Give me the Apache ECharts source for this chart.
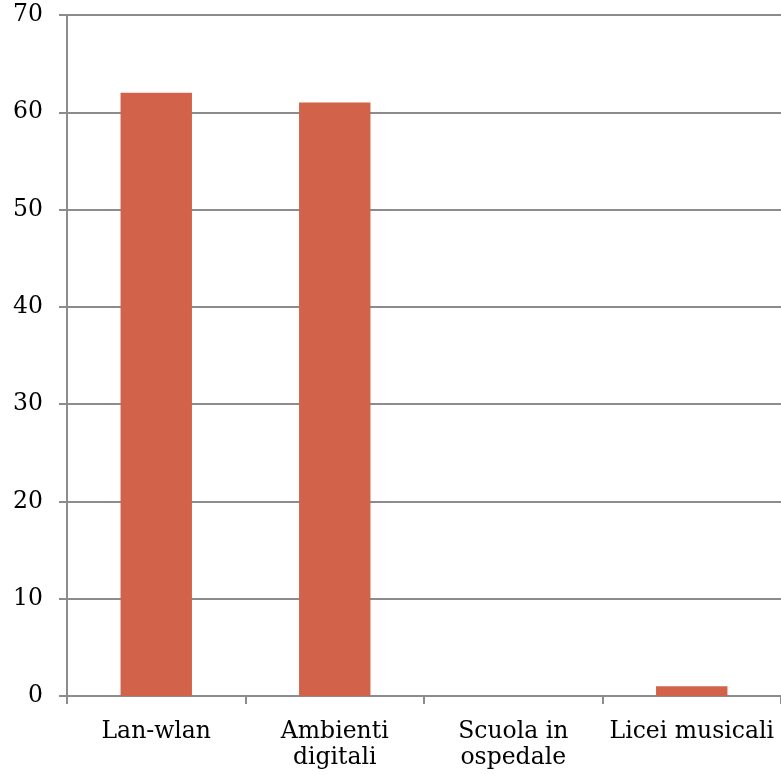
<!DOCTYPE html>
<html><head><meta charset="utf-8">
<script src="https://cdn.jsdelivr.net/npm/echarts@6/dist/echarts.min.js"></script>
<style>html,body{margin:0;padding:0;background:#fff}#c{width:781px;height:775px}</style>
</head><body><div id="c"></div>
<script>
var categories = ["Lan-wlan", "Ambienti\ndigitali", "Scuola in\nospedale", "Licei musicali"];
var values = [62, 61, 0, 1];
var yTicks = [0, 10, 20, 30, 40, 50, 60, 70];

var font = "DejaVu Serif";
var chart = echarts.init(document.getElementById('c'), null, {renderer: 'canvas'});
chart.setOption({
  animation: false,
  grid: {left: 67, right: 0, top: 15, bottom: 79, containLabel: false},
  xAxis: {
    type: 'category',
    data: categories,
    axisLine: {show: true, lineStyle: {color: '#8c8c8c', width: 2}},
    axisTick: {show: true, length: 8, alignWithLabel: false, lineStyle: {color: '#8c8c8c', width: 2}},
    axisLabel: {color: '#000', fontFamily: font, fontSize: 23.5, lineHeight: 26, margin: 23, interval: 0},
    splitLine: {show: false}
  },
  yAxis: {
    type: 'value',
    min: 0, max: 70, interval: 10,
    axisLine: {show: true, lineStyle: {color: '#8c8c8c', width: 2}},
    axisTick: {show: true, length: 8, lineStyle: {color: '#8c8c8c', width: 2}},
    axisLabel: {color: '#000', fontFamily: font, fontSize: 23.5, margin: 24,
      formatter: function (v) { return yTicks.indexOf(v) >= 0 ? String(v) : ''; }},
    splitLine: {show: true, lineStyle: {color: '#8c8c8c', width: 2}}
  },
  series: [{
    type: 'bar',
    data: values,
    barWidth: '40%',
    itemStyle: {color: '#D2634A'}
  }]
});
</script></body></html>
